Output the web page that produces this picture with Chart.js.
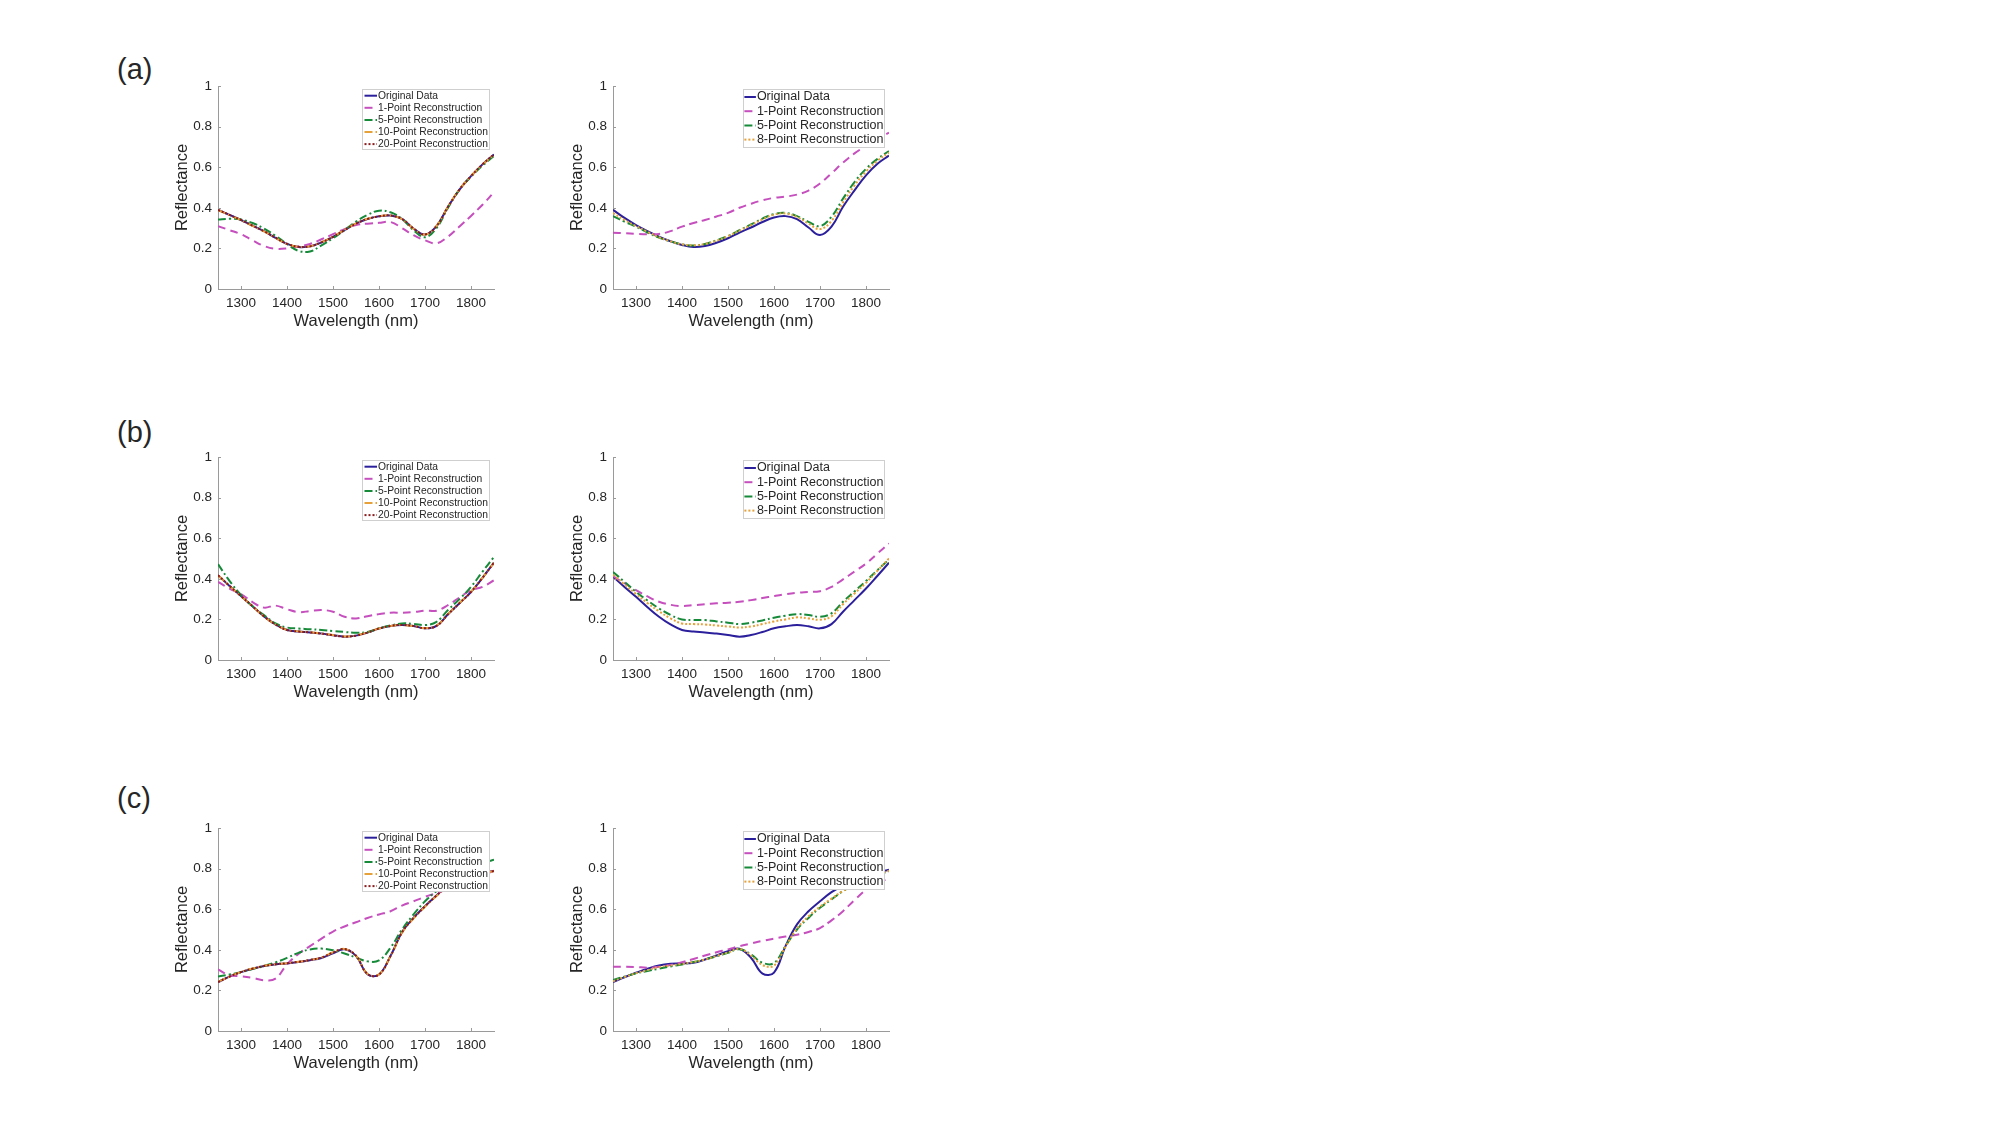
<!DOCTYPE html>
<html lang="en">
<head>
<meta charset="UTF-8">
<title>Reflectance reconstruction</title>
<script src="https://cdn.jsdelivr.net/npm/chart.js"></script>
<style>
  body { margin: 0; background: #fff; width: 2000px; height: 1125px; position: relative; overflow: hidden;
         font-family: "Liberation Sans", Arial, sans-serif; }
  .panel-label { position: absolute; font-size: 29px; line-height: 29px; color: #262626; }
  canvas { position: absolute; }
</style>
</head>
<body>
<div class="panel-label" style="left:117px;top:55px">(a)</div>
<div class="panel-label" style="left:117px;top:418px">(b)</div>
<div class="panel-label" style="left:117px;top:784px">(c)</div>

<canvas id="a20"></canvas>
<canvas id="a8"></canvas>
<canvas id="b20"></canvas>
<canvas id="b8"></canvas>
<canvas id="c20"></canvas>
<canvas id="c8"></canvas>

<script>
// wavelength grid (nm) and axis ticks
const wavelength = [1250,1275,1300,1325,1350,1375,1400,1425,1450,1475,1500,1525,1550,1575,1600,1625,1650,1675,1700,1725,1750,1775,1800,1825,1850];
const xTickVals = [1300,1400,1500,1600,1700,1800];
const yTickVals = [0,0.2,0.4,0.6,0.8,1];

// (a) left: up to 20 points
const origA20   = [0.390,0.365,0.340,0.312,0.285,0.252,0.222,0.207,0.210,0.230,0.257,0.290,0.322,0.345,0.358,0.362,0.345,0.298,0.268,0.310,0.405,0.490,0.556,0.614,0.663];
const oneA20    = [0.310,0.290,0.270,0.240,0.212,0.198,0.200,0.210,0.222,0.245,0.270,0.295,0.315,0.322,0.326,0.330,0.300,0.265,0.240,0.225,0.258,0.308,0.360,0.415,0.477];
const fiveA20   = [0.342,0.346,0.342,0.325,0.298,0.262,0.222,0.188,0.185,0.215,0.250,0.290,0.332,0.365,0.386,0.378,0.345,0.290,0.255,0.300,0.400,0.490,0.553,0.608,0.655];
const tenA20    = [0.389,0.364,0.339,0.311,0.284,0.252,0.222,0.208,0.211,0.231,0.258,0.291,0.323,0.346,0.359,0.362,0.344,0.297,0.268,0.311,0.406,0.491,0.556,0.613,0.662];
const twentyA20 = [0.390,0.365,0.340,0.312,0.285,0.253,0.223,0.208,0.210,0.230,0.257,0.290,0.322,0.345,0.358,0.362,0.345,0.298,0.269,0.310,0.405,0.490,0.556,0.614,0.663];

// (a) right: up to 8 points
const origA8  = [0.390,0.350,0.315,0.285,0.258,0.235,0.217,0.207,0.212,0.228,0.250,0.278,0.303,0.330,0.352,0.359,0.344,0.303,0.266,0.307,0.405,0.486,0.560,0.617,0.657];
const oneA8   = [0.277,0.275,0.272,0.270,0.271,0.285,0.307,0.325,0.340,0.357,0.375,0.400,0.420,0.437,0.449,0.455,0.465,0.485,0.520,0.570,0.622,0.668,0.705,0.740,0.770];
const fiveA8  = [0.359,0.332,0.307,0.278,0.253,0.235,0.220,0.214,0.222,0.240,0.261,0.290,0.318,0.347,0.369,0.375,0.359,0.331,0.310,0.356,0.445,0.527,0.592,0.641,0.679];
const eightA8 = [0.375,0.340,0.310,0.282,0.255,0.235,0.220,0.215,0.222,0.238,0.260,0.288,0.315,0.343,0.366,0.372,0.355,0.322,0.295,0.335,0.425,0.510,0.578,0.632,0.672];

// (b) left
const origB20   = [0.418,0.365,0.315,0.265,0.215,0.175,0.148,0.140,0.136,0.130,0.122,0.115,0.120,0.135,0.155,0.168,0.173,0.168,0.156,0.168,0.225,0.280,0.335,0.405,0.480];
const oneB20    = [0.385,0.352,0.325,0.285,0.258,0.268,0.250,0.236,0.241,0.246,0.238,0.213,0.205,0.216,0.226,0.233,0.233,0.236,0.243,0.243,0.270,0.308,0.344,0.360,0.393];
const fiveB20   = [0.472,0.390,0.320,0.265,0.221,0.180,0.160,0.155,0.152,0.148,0.143,0.138,0.134,0.138,0.156,0.170,0.180,0.178,0.172,0.188,0.246,0.300,0.360,0.435,0.508];
const tenB20    = [0.417,0.364,0.314,0.264,0.214,0.175,0.148,0.141,0.137,0.131,0.123,0.116,0.121,0.136,0.155,0.168,0.172,0.167,0.157,0.169,0.226,0.281,0.336,0.405,0.479];
const twentyB20 = [0.418,0.365,0.315,0.265,0.215,0.175,0.148,0.140,0.136,0.130,0.122,0.115,0.120,0.135,0.155,0.168,0.173,0.168,0.156,0.168,0.225,0.280,0.335,0.405,0.480];

// (b) right
const origB8  = [0.410,0.360,0.311,0.260,0.213,0.175,0.148,0.140,0.136,0.130,0.123,0.115,0.123,0.138,0.156,0.166,0.172,0.166,0.156,0.177,0.238,0.295,0.352,0.415,0.479];
const oneB8   = [0.413,0.378,0.344,0.313,0.287,0.272,0.266,0.270,0.275,0.279,0.282,0.287,0.295,0.305,0.315,0.324,0.331,0.335,0.339,0.360,0.397,0.436,0.475,0.525,0.574];
const fiveB8  = [0.434,0.385,0.336,0.293,0.254,0.222,0.200,0.197,0.197,0.190,0.184,0.177,0.184,0.195,0.208,0.218,0.226,0.222,0.213,0.230,0.287,0.338,0.389,0.443,0.495];
const eightB8 = [0.420,0.372,0.325,0.280,0.240,0.205,0.180,0.177,0.175,0.170,0.165,0.160,0.165,0.177,0.190,0.200,0.210,0.205,0.198,0.215,0.275,0.328,0.380,0.440,0.500];

// (c) left
const origC20   = [0.241,0.268,0.290,0.307,0.320,0.328,0.333,0.340,0.349,0.360,0.383,0.403,0.370,0.280,0.278,0.370,0.487,0.557,0.615,0.668,0.715,0.745,0.765,0.780,0.788];
const oneC20    = [0.303,0.275,0.270,0.262,0.250,0.258,0.328,0.380,0.418,0.455,0.490,0.515,0.536,0.557,0.574,0.590,0.618,0.639,0.661,0.680,0.700,0.720,0.740,0.765,0.790];
const fiveC20   = [0.268,0.278,0.290,0.305,0.320,0.338,0.360,0.385,0.402,0.406,0.398,0.382,0.362,0.343,0.348,0.410,0.500,0.574,0.639,0.689,0.730,0.768,0.800,0.825,0.844];
const tenC20    = [0.242,0.268,0.291,0.308,0.321,0.329,0.334,0.341,0.350,0.362,0.388,0.404,0.371,0.282,0.279,0.368,0.484,0.554,0.612,0.665,0.713,0.744,0.764,0.779,0.787];
const twentyC20 = [0.241,0.268,0.290,0.307,0.320,0.329,0.334,0.341,0.350,0.362,0.387,0.404,0.371,0.281,0.278,0.369,0.486,0.556,0.614,0.667,0.714,0.745,0.765,0.780,0.788];

// (c) right
const origC8  = [0.241,0.265,0.287,0.307,0.323,0.331,0.333,0.336,0.352,0.372,0.393,0.405,0.361,0.283,0.288,0.418,0.525,0.590,0.639,0.684,0.716,0.742,0.762,0.780,0.795];
const oneC8   = [0.316,0.316,0.315,0.312,0.316,0.325,0.339,0.355,0.372,0.388,0.402,0.418,0.431,0.444,0.455,0.465,0.474,0.488,0.507,0.545,0.590,0.645,0.695,0.725,0.755];
const fiveC8  = [0.251,0.268,0.284,0.296,0.307,0.318,0.328,0.340,0.352,0.368,0.385,0.403,0.377,0.336,0.335,0.418,0.500,0.557,0.607,0.648,0.689,0.720,0.745,0.768,0.787];
const eightC8 = [0.245,0.266,0.285,0.300,0.315,0.323,0.330,0.340,0.352,0.370,0.387,0.405,0.372,0.325,0.322,0.415,0.505,0.565,0.612,0.652,0.690,0.720,0.748,0.770,0.790];

const textColor = '#262626';
const axisColor = '#9a9a9a';
const family = '"Liberation Sans", Arial, sans-serif';

// line style per series
const styles = {
  'Original Data':           { color: '#2b1f9c', dash: [],           width: 2 },
  '1-Point Reconstruction':  { color: '#c64fbe', dash: [8, 5],       width: 2 },
  '5-Point Reconstruction':  { color: '#178a3a', dash: [8, 3, 2, 3], width: 2 },
  '10-Point Reconstruction': { color: '#e6a13a', dash: [8, 3, 2, 3], width: 2 },
  '20-Point Reconstruction': { color: '#8c1c1c', dash: [2, 2],       width: 2 },
  '8-Point Reconstruction':  { color: '#e6a13a', dash: [2, 2],       width: 2 }
};

// inward tick marks like matlab
const innerTicks = {
  id: 'innerTicks',
  afterDraw(chart) {
    const {ctx, chartArea: a, scales: {x, y}} = chart;
    ctx.save();
    ctx.strokeStyle = axisColor;
    ctx.lineWidth = 1;
    ctx.beginPath();
    x.ticks.forEach(t => {
      const px = Math.round(x.getPixelForValue(t.value)) + 0.5;
      ctx.moveTo(px, a.bottom); ctx.lineTo(px, a.bottom - 3);
    });
    y.ticks.forEach(t => {
      const py = Math.round(y.getPixelForValue(t.value)) + 0.5;
      ctx.moveTo(a.left, py); ctx.lineTo(a.left + 3, py);
    });
    ctx.stroke();
    ctx.restore();
  }
};

// legend boxed inside the top right corner of the axes
const boxLegend = {
  id: 'boxLegend',
  afterDatasetsDraw(chart, args, o) {
    const {ctx, chartArea: a} = chart;
    const x0 = a.right - o.right - o.width;
    const y0 = a.top + o.top;
    ctx.save();
    ctx.fillStyle = '#fff';
    ctx.fillRect(x0, y0, o.width, o.height);
    ctx.strokeStyle = '#cfcfcf';
    ctx.lineWidth = 1;
    ctx.strokeRect(Math.round(x0) + 0.5, Math.round(y0) + 0.5, Math.round(o.width), Math.round(o.height));
    ctx.font = o.fontSize + 'px ' + family;
    ctx.textBaseline = 'middle';
    chart.data.datasets.forEach((d, i) => {
      const ry = y0 + o.first + i * o.step;
      ctx.strokeStyle = d.borderColor;
      ctx.lineWidth = d.borderWidth;
      ctx.setLineDash(d.borderDash);
      ctx.beginPath();
      ctx.moveTo(x0 + o.s0, ry);
      ctx.lineTo(x0 + o.s1, ry);
      ctx.stroke();
      ctx.setLineDash([]);
      ctx.fillStyle = textColor;
      ctx.fillText(d.label, x0 + o.tx, ry);
    });
    ctx.restore();
  }
};

const legendSmall = { width: 127, height: 60, top: 3, right: 5, first: 6.7, step: 12.1, s0: 2.5, s1: 15, tx: 16, fontSize: 10.3 };
const legendLarge = { width: 140.6, height: 58, top: 3, right: 5, first: 8, step: 14.2, s0: 1, s1: 12.5, tx: 13.5, fontSize: 12.5 };

const areaW = 276, areaH = 203;

function makePlot(id, areaLeft, areaTop, series, legendOpts) {
  const cv = document.getElementById(id);
  const w = areaW + 120, h = areaH + 65;
  cv.width = w; cv.height = h;
  cv.style.left = (areaLeft - 100) + 'px';
  cv.style.top = (areaTop - 20) + 'px';
  cv.style.width = w + 'px';
  cv.style.height = h + 'px';

  const n = series.length;
  const datasets = series.map(([label, vals], i) => ({
    label: label,
    data: wavelength.map((wl, k) => ({ x: wl, y: vals[k] })),
    borderColor: styles[label].color,
    borderWidth: styles[label].width,
    borderDash: styles[label].dash,
    pointRadius: 0,
    fill: false,
    tension: 0.4,
    order: n - i
  }));

  return new Chart(cv, {
    type: 'line',
    data: { datasets: datasets },
    options: {
      responsive: false,
      animation: false,
      events: [],
      layout: { padding: { left: 50, top: 20, right: 20, bottom: 2.7 } },
      plugins: { legend: { display: false }, tooltip: { enabled: false }, boxLegend: legendOpts },
      scales: {
        x: {
          type: 'linear', min: 1250, max: 1850,
          afterBuildTicks: s => { s.ticks = xTickVals.map(v => ({ value: v })); },
          afterFit: s => { s.height = 42.3; },
          grid: { display: false, drawTicks: false },
          border: { display: true, color: axisColor, width: 1 },
          ticks: { color: textColor, font: { size: 13.5, family: family }, padding: 6, maxRotation: 0,
                   callback: v => String(v) },
          title: { display: true, text: 'Wavelength (nm)', color: textColor, font: { size: 16.5, family: family }, padding: 0 }
        },
        y: {
          type: 'linear', min: 0, max: 1,
          afterBuildTicks: s => { s.ticks = yTickVals.map(v => ({ value: v })); },
          afterFit: s => { s.width = 50; },
          grid: { display: false, drawTicks: false },
          border: { display: true, color: axisColor, width: 1 },
          ticks: { color: textColor, font: { size: 13.5, family: family }, padding: 6,
                   callback: v => String(v) },
          title: { display: true, text: 'Reflectance', color: textColor, font: { size: 16.5, family: family }, padding: { top: 4.5, bottom: 0 } }
        }
      }
    },
    plugins: [boxLegend, innerTicks]
  });
}

makePlot('a20', 218, 86, [
  ['Original Data', origA20], ['1-Point Reconstruction', oneA20], ['5-Point Reconstruction', fiveA20],
  ['10-Point Reconstruction', tenA20], ['20-Point Reconstruction', twentyA20]
], legendSmall);
makePlot('a8', 613, 86, [
  ['Original Data', origA8], ['1-Point Reconstruction', oneA8], ['5-Point Reconstruction', fiveA8],
  ['8-Point Reconstruction', eightA8]
], legendLarge);
makePlot('b20', 218, 457, [
  ['Original Data', origB20], ['1-Point Reconstruction', oneB20], ['5-Point Reconstruction', fiveB20],
  ['10-Point Reconstruction', tenB20], ['20-Point Reconstruction', twentyB20]
], legendSmall);
makePlot('b8', 613, 457, [
  ['Original Data', origB8], ['1-Point Reconstruction', oneB8], ['5-Point Reconstruction', fiveB8],
  ['8-Point Reconstruction', eightB8]
], legendLarge);
makePlot('c20', 218, 828, [
  ['Original Data', origC20], ['1-Point Reconstruction', oneC20], ['5-Point Reconstruction', fiveC20],
  ['10-Point Reconstruction', tenC20], ['20-Point Reconstruction', twentyC20]
], legendSmall);
makePlot('c8', 613, 828, [
  ['Original Data', origC8], ['1-Point Reconstruction', oneC8], ['5-Point Reconstruction', fiveC8],
  ['8-Point Reconstruction', eightC8]
], legendLarge);
</script>
</body>
</html>
